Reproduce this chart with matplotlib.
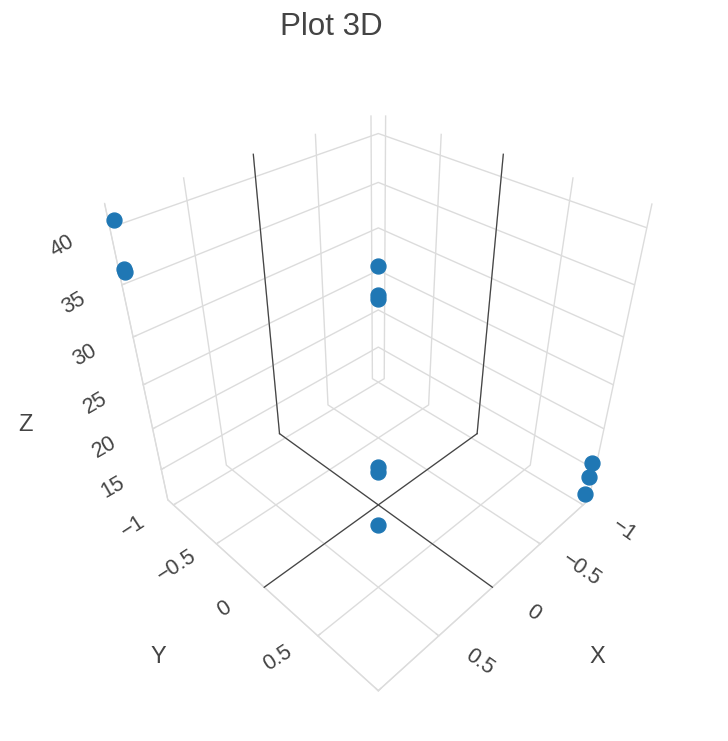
import matplotlib
matplotlib.use('Agg')
import matplotlib.pyplot as plt
import numpy as np
from matplotlib.transforms import IdentityTransform
from mpl_toolkits.mplot3d import proj3d

plt.rcParams['font.family'] = ['Liberation Sans', 'DejaVu Sans']

# data: four corner groups of three points
x_vals = [1, 1, 1, -1, -1, -1, 1, 1, 1, -1, -1, -1]
y_vals = [-1, -1, -1, -1, -1, -1, 1, 1, 1, 1, 1, 1]
z_vals = [41.0, 36.85, 36.55, 26.3, 22.8, 22.2, 29.25, 33.85, 34.25, 16.4, 14.7, 12.5]

xy_ticks = [-1, -0.5, 0, 0.5, 1]
xy_labels = ['\u22121', '\u22120.5', '0', '0.5', '']
z_ticks = [15, 20, 25, 30, 35, 40]
z_labels = ['15', '20', '25', '30', '35', '40']

text_color = '#444444'
grid_color = '#dcdcdc'
marker_color = '#1f77b4'

fig = plt.figure(figsize=(7.28, 7.41), dpi=100)
ax = fig.add_axes([0.007, 0.027, 1.0, 0.92], projection='3d')
ax.set_proj_type('persp', focal_length=0.22)
ax.view_init(elev=36, azim=45)
ax.set_box_aspect((1, 1, 1.07), zoom=0.85)

xlim = (-1.07, 1.0)
ylim = (-1.07, 1.0)
zlim = (11, 42)
ax.set_xlim(xlim)
ax.set_ylim(ylim)
ax.set_zlim(zlim)

ax.set_xticks(xy_ticks)
ax.set_yticks(xy_ticks)
ax.set_zticks(z_ticks)
ax.set_xticklabels([])
ax.set_yticklabels([])
ax.set_zticklabels([])

for axis in (ax.xaxis, ax.yaxis, ax.zaxis):
    axis.set_pane_color((1, 1, 1, 0))
    axis.pane.set_edgecolor((1, 1, 1, 0))
    axis.line.set_color(grid_color)
    axis._axinfo['grid'].update(color=grid_color, linewidth=1.0)
    axis._axinfo['tick'].update(inward_factor=0, outward_factor=0.12,
                                color=grid_color, linewidth={True: 1.0, False: 1.0})
ax.tick_params(colors=grid_color, width=1.0)

# zero lines on the back walls and floor
ax.plot([0, 0], [ylim[0], ylim[0]], zlim, color=text_color, lw=0.9)
ax.plot([0, 0], ylim, [zlim[0], zlim[0]], color=text_color, lw=0.9)
ax.plot([xlim[0], xlim[0]], [0, 0], zlim, color=text_color, lw=0.9)
ax.plot(xlim, [0, 0], [zlim[0], zlim[0]], color=text_color, lw=0.9)

ax.scatter(x_vals, y_vals, z_vals, s=115, color=marker_color, depthshade=False, alpha=1)

# tick labels placed plotly-style: projected anchor + screen offset
fig.canvas.draw()
M = ax.get_proj()


def screen(x, y, z):
    px, py, _ = proj3d.proj_transform(x, y, z, M)
    return ax.transData.transform((px, py))


def put_label(pos, offset, text, rot):
    sx, sy = pos
    fig.text(sx + offset[0], sy - offset[1], text, transform=IdentityTransform(),
             ha='center', va='center', rotation=rot, rotation_mode='anchor',
             fontsize=15.5, color=text_color)


for v, lab in zip(xy_ticks, xy_labels):
    put_label(screen(v, ylim[1], zlim[0]), (41, 26), lab, -35)
    put_label(screen(xlim[1], v, zlim[0]), (-40, 22), lab, 33)
for v, lab in zip(z_ticks, z_labels):
    put_label(screen(xlim[1], ylim[0], v), (-48, 18), lab, 30)

# axis titles, placed like the plotly scene
fig.text(597 / 728, 1 - 657 / 741, 'X', ha='center', va='center', fontsize=17, color=text_color)
fig.text(158 / 728, 1 - 657 / 741, 'Y', ha='center', va='center', fontsize=17, color=text_color)
fig.text(25 / 728, 1 - 425 / 741, 'Z', ha='center', va='center', fontsize=17, color=text_color)

fig.text(331 / 728, 1 - 27 / 741, 'Plot 3D', ha='center', va='center', fontsize=22.5, color=text_color)

fig.savefig('out.png', dpi=100)
